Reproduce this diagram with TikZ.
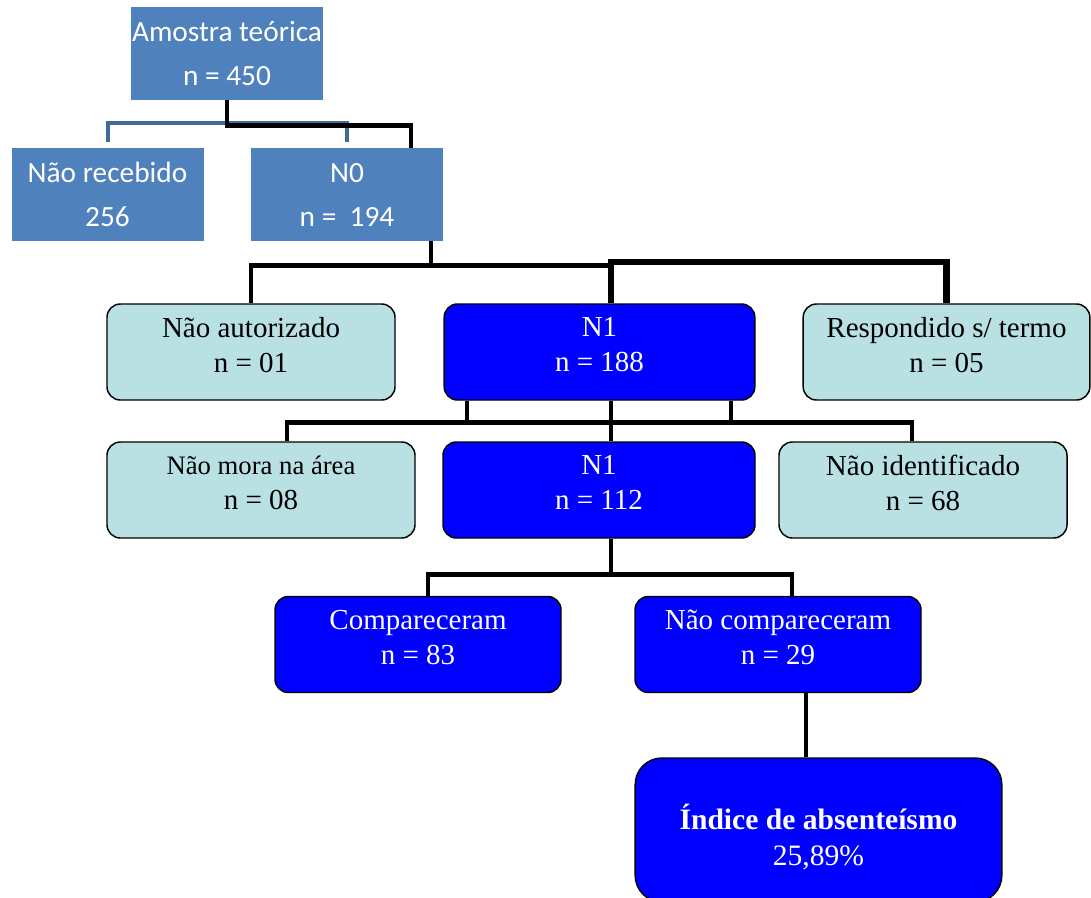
\documentclass[tikz,border=0pt]{standalone}
\usepackage{fontspec}
\setmainfont{Liberation Serif}
\newfontfamily\calibri{Carlito}
\usepackage{tikz}
\usetikzlibrary{backgrounds,calc}
\definecolor{steel}{HTML}{4F81BD}
\definecolor{steeldark}{HTML}{3F6A9A}
\definecolor{pale}{HTML}{B9E0E3}
\definecolor{deepblue}{HTML}{0000FF}
\tikzset{
  topbox/.style={fill=steel,text=white,align=center,inner sep=0pt,minimum width=144pt,minimum height=70pt,
    font=\calibri\fontsize{22}{33}\selectfont},
  box/.style={rounded corners=10pt,draw=black,line width=1.1pt,align=center,inner sep=0pt,minimum height=72pt,
    font=\fontsize{21.75}{26}\selectfont,execute at end node={\rule[-11pt]{0pt}{11pt}}},
  pbox/.style={box,fill=pale,text=black},
  bbox/.style={box,fill=deepblue,text=white},
  link/.style={line width=3.5pt,draw=black},
  heavy/.style={line width=4.8pt,draw=black},
  faint/.style={line width=3pt,draw=steeldark}
}
\begin{document}
\begin{tikzpicture}[x=0.75pt,y=-0.75pt]
\useasboundingbox (0,0) rectangle (1091,897);

\node[topbox] (amostra) at (227,53.5) {Amostra teórica\\n = 450};
\node[topbox] (nrec) at (107.5,194.5) {Não recebido\\256};
\node[topbox] (n0) at (347,194.5) {N0\\n =\ \ 194};

\node[pbox,minimum width=216pt] (naut) at (251,352) {Não autorizado\\n = 01};
\node[bbox,minimum width=233pt] (n1a) at (599.5,352) {N1\\n = 188};
\node[pbox,minimum width=215pt] (resp) at (946.5,352) {Respondido s/ termo\\n = 05};

\node[pbox,minimum width=231pt] (nmora) at (261,490) {{\fontsize{20}{24}\selectfont Não mora na área}\\n = 08};
\node[bbox,minimum width=234pt] (n1b) at (599,490) {N1\\n = 112};
\node[pbox,minimum width=216pt] (nident) at (923,490) {Não identificado\\n = 68};

\node[bbox,minimum width=214.5pt] (comp) at (418,644.5) {Compareceram\\n = 83};
\node[bbox,minimum width=214.5pt] (ncomp) at (778,644.5) {Não compareceram\\n = 29};

\node[bbox,rounded corners=20pt,minimum width=275pt,minimum height=108pt,execute at end node={},
  font=\fontsize{22.2}{26.5}\selectfont] (indice) at (818.5,830)
  {\raisebox{-7.5pt}[\height][\depth]{\begin{tabular}{@{}c@{}}\textbf{Índice de absenteísmo}\\25,89\%\end{tabular}}};

\begin{scope}[on background layer]
% top level
\draw[faint] ($(nrec.north)+(0,-6)$) -- ++(0,-19) -| ($(n0.north)+(0,-6)$);
\draw[link] (amostra.south) -- ++(0,25) -| ($(n0.north)+(64,0)$);
% N0 split
\draw[link] ($(n0.south)+(84,0)$) -- ++(0,24) coordinate (split0) -| (naut.north);
\draw[link] (split0) -| ($(n1a.north)+(11.5,0)$);
\draw[heavy] ($(n1a.north)+(11.5,0)$) -- ++(0,-41) -| (resp.north);
% N1 split
\foreach \dx in {-132.5,11.5,131.5}
  \draw[link] ($(n1a.south)+(\dx,0)$) -- ++(0,23);
\draw[link] ($(nmora.north)+(26,0)$) |- ($(nident.north)+(-11,-19)$) -- ($(nident.north)+(-11,0)$);
\draw[link] ($(n1a.south)+(11.5,0)$) -- ($(n1b.north)+(12,0)$);
% final split
\draw[link] ($(n1b.south)+(12,0)$) -- ++(0,36) coordinate (split2) -| ($(comp.north)+(10,0)$);
\draw[link] (split2) -| ($(ncomp.north)+(14,0)$);
\draw[link] ($(ncomp.south)+(28,0)$) -- ($(indice.north)+(-12.5,0)$);
\end{scope}
\end{tikzpicture}
\end{document}
